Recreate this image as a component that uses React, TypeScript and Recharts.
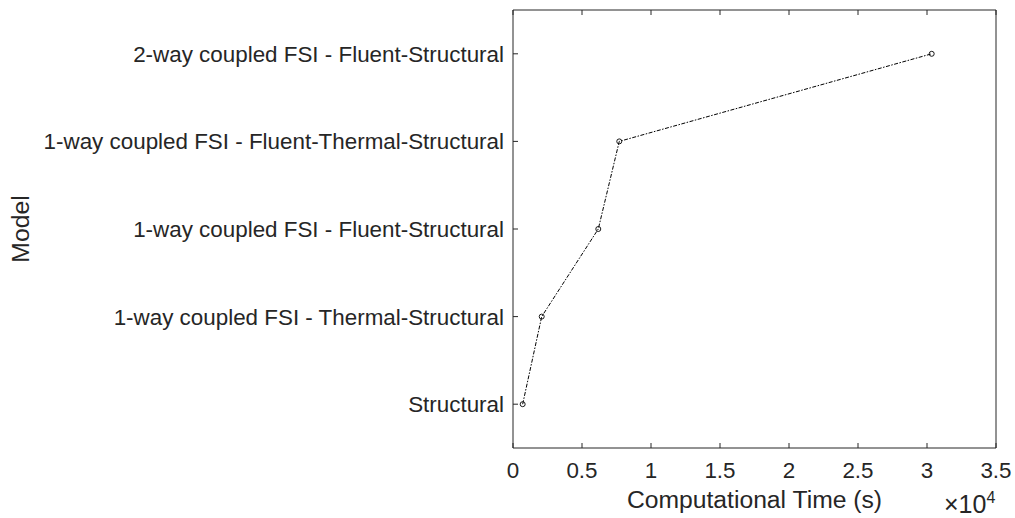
import React from 'react';
import { LineChart, Line, XAxis, YAxis, Label } from 'recharts';

// model names, bottom to top
const MODELS = [
    'Structural',
    '1-way coupled FSI - Thermal-Structural',
    '1-way coupled FSI - Fluent-Structural',
    '1-way coupled FSI - Fluent-Thermal-Structural',
    '2-way coupled FSI - Fluent-Structural',
];
const TIME_S = [700, 2080, 6180, 7700, 30340]; // computational time in seconds
const TIME_TICKS = [0, 5000, 10000, 15000, 20000, 25000, 30000, 35000];
const MODEL_TICKS = [1, 2, 3, 4, 5];

const data = MODELS.map((model, i) => ({ model, rank: i + 1, time: TIME_S[i] }));

const INK = '#262626';
const FONT = '"Liberation Sans", Arial, sans-serif';
const TICK_LEN = 5;
const TICK_FONT = 22.4;
const TITLE_FONT = 24.7;

// ticks point inwards like a matlab box
const BottomTick = ({ x, y, payload }: any) => (
    <g>
        <line x1={x} y1={y} x2={x} y2={y - TICK_LEN} stroke={INK} />
        <text x={x} y={y + 30} textAnchor="middle" fontSize={TICK_FONT} fill={INK} fontFamily={FONT}>
            {payload.value / 10000}
        </text>
    </g>
);

const TopTick = ({ x, y }: any) => <line x1={x} y1={y} x2={x} y2={y + TICK_LEN} stroke={INK} />;

const LeftTick = ({ x, y, payload }: any) => (
    <g>
        <line x1={x} y1={y} x2={x + TICK_LEN} y2={y} stroke={INK} />
        <text x={x - 9} y={y + 8} textAnchor="end" fontSize={TICK_FONT} fill={INK} fontFamily={FONT}>
            {MODELS[payload.value - 1]}
        </text>
    </g>
);

const RightTick = ({ x, y }: any) => <line x1={x} y1={y} x2={x - TICK_LEN} y2={y} stroke={INK} />;

const TimeTitle = ({ viewBox }: any) => {
    const { x, y, width } = viewBox;
    return (
        <g fontFamily={FONT} fill={INK}>
            <text x={x + width / 2} y={y + 60} textAnchor="middle" fontSize={TITLE_FONT}>
                Computational Time (s)
            </text>
            <text x={x + width - 52} y={y + 65} fontSize={25}>
                ×10<tspan dy={-10} fontSize={16}>4</tspan>
            </text>
        </g>
    );
};

const ModelTitle = ({ viewBox }: any) => {
    const cx = viewBox.x + viewBox.width - 484;
    const cy = viewBox.y + viewBox.height / 2;
    return (
        <text x={cx} y={cy} textAnchor="middle" fontSize={TITLE_FONT} fill={INK} fontFamily={FONT}
            transform={`rotate(-90, ${cx}, ${cy})`}>
            Model
        </text>
    );
};

const App: React.FC = () => {
    return (
        <div style={{ position: 'absolute', left: 0, top: 0, background: '#fff' }}>
            <LineChart width={1015} height={518} data={data} margin={{ top: 9, right: 18, bottom: 0, left: 8 }}>
                <XAxis xAxisId="b" type="number" dataKey="time" domain={[0, 35000]} ticks={TIME_TICKS}
                    height={70} tickSize={0} tickMargin={0} interval={0} tick={<BottomTick />}
                    axisLine={{ stroke: INK }}>
                    <Label content={<TimeTitle />} />
                </XAxis>
                <XAxis xAxisId="t" orientation="top" type="number" dataKey="time" domain={[0, 35000]}
                    ticks={TIME_TICKS} height={1} tickSize={0} tickMargin={0} interval={0}
                    tick={<TopTick />} axisLine={{ stroke: INK }} />
                <YAxis yAxisId="l" type="number" domain={[0.5, 5.5]} ticks={MODEL_TICKS}
                    width={505} tickSize={0} tickMargin={0} interval={0} tick={<LeftTick />}
                    axisLine={{ stroke: INK }}>
                    <Label content={<ModelTitle />} />
                </YAxis>
                <YAxis yAxisId="r" orientation="right" type="number" domain={[0.5, 5.5]} ticks={MODEL_TICKS}
                    width={1} tickSize={0} tickMargin={0} interval={0} tick={<RightTick />}
                    axisLine={{ stroke: INK }} />
                <Line
                    xAxisId="b"
                    yAxisId="l"
                    dataKey="rank"
                    stroke="#000"
                    strokeWidth={1}
                    strokeDasharray="4 1.5 1.5 1.5"
                    dot={{ r: 2.5, fill: 'none', stroke: '#000', strokeWidth: 0.9, strokeDasharray: 'none' }}
                    activeDot={false}
                    isAnimationActive={false}
                />
            </LineChart>
        </div>
    );
};

export default App;
